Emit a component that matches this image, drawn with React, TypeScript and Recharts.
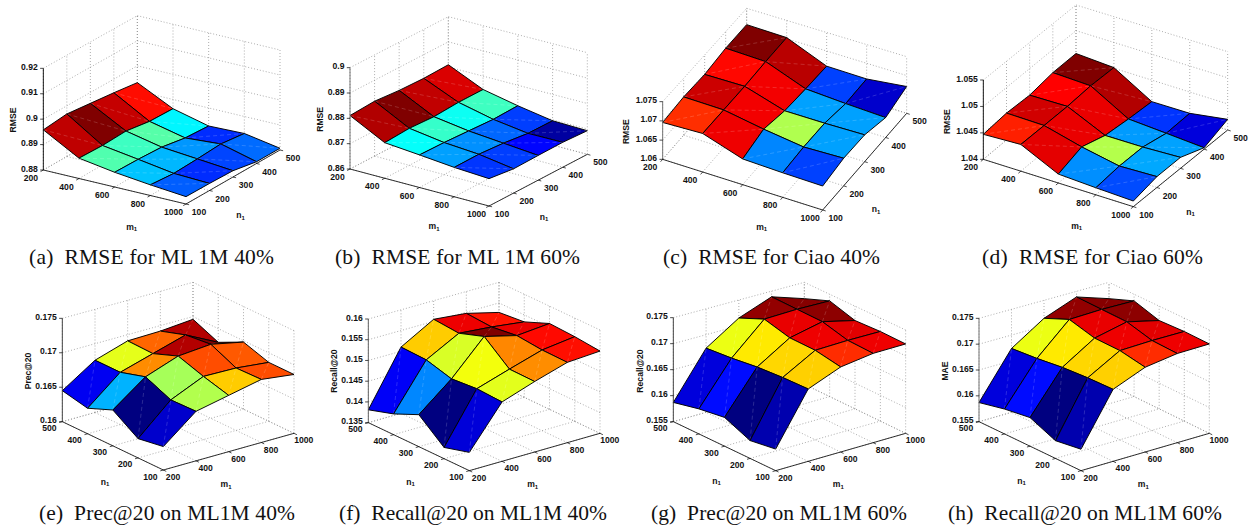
import React from 'react';
import { ScatterChart, Scatter, XAxis, YAxis, Polygon } from 'recharts';

// ---------- data ----------
const mValues = [200, 400, 600, 800, 1000];
const nValues = [100, 200, 300, 400, 500];

// every grid: rows are n = 100..500, columns are m = 200..1000
const rmseMl40 = [
  [0.8958, 0.888, 0.8858, 0.8842, 0.8829],
  [0.8968, 0.8877, 0.8856, 0.8834, 0.8828],
  [0.8957, 0.8881, 0.8851, 0.8838, 0.8825],
  [0.8946, 0.8866, 0.8834, 0.8844, 0.8807],
  [0.8933, 0.8863, 0.8828, 0.8832, 0.8807],
];
const rmseMl60 = [
  [0.8811, 0.874, 0.8728, 0.8715, 0.8707],
  [0.8817, 0.8746, 0.8726, 0.8716, 0.8695],
  [0.8809, 0.8741, 0.8721, 0.8709, 0.8697],
  [0.8806, 0.8747, 0.8716, 0.8697, 0.8698],
  [0.8809, 0.8747, 0.8719, 0.8696, 0.8693],
];
const rmseCiao40 = [
  [1.0696, 1.06992, 1.06656, 1.0662, 1.066],
  [1.0701, 1.0699, 1.0681, 1.0667, 1.067],
  [1.0698, 1.0699, 1.0667, 1.0667, 1.0669],
  [1.0705, 1.0702, 1.0662, 1.0656, 1.0652],
  [1.0705, 1.0703, 1.0659, 1.0658, 1.0671],
];
const rmseCiao60 = [
  [1.04473, 1.04503, 1.04167, 1.04132, 1.04105],
  [1.04513, 1.045, 1.04318, 1.0418, 1.04204],
  [1.04489, 1.045, 1.04173, 1.04177, 1.04207],
  [1.04555, 1.04529, 1.0412, 1.04075, 1.04027],
  [1.04555, 1.04512, 1.04084, 1.0409, 1.04204],
];
const precMl40 = [
  [0.1634, 0.1672, 0.1682, 0.1692, 0.1686],
  [0.1628, 0.1671, 0.1692, 0.1691, 0.1686],
  [0.1652, 0.1687, 0.1704, 0.1708, 0.1698],
  [0.1637, 0.1676, 0.169, 0.1704, 0.168],
  [0.1645, 0.1676, 0.1691, 0.1692, 0.1696],
];
const recallMl40 = [
  [0.1394, 0.1493, 0.152, 0.1544, 0.1549],
  [0.1377, 0.1496, 0.1521, 0.1545, 0.1555],
  [0.1427, 0.1491, 0.1571, 0.1551, 0.1558],
  [0.14, 0.1508, 0.155, 0.1543, 0.1533],
  [0.1381, 0.151, 0.1555, 0.1547, 0.1527],
];
const precMl60 = [
  [0.1591, 0.1688, 0.1713, 0.1722, 0.1723],
  [0.1584, 0.1687, 0.1722, 0.1724, 0.1724],
  [0.1605, 0.1684, 0.1723, 0.1737, 0.1722],
  [0.1598, 0.1678, 0.1736, 0.1738, 0.1737],
  [0.1587, 0.1674, 0.1715, 0.1739, 0.1718],
];
const recallMl60 = [
  [0.1591, 0.1688, 0.1713, 0.1722, 0.1723],
  [0.1584, 0.1687, 0.1722, 0.1724, 0.1724],
  [0.1605, 0.1684, 0.1723, 0.1737, 0.1722],
  [0.1598, 0.1678, 0.1736, 0.1738, 0.1737],
  [0.1587, 0.1674, 0.1715, 0.1739, 0.1718],
];

const zTicksA = [0.88, 0.89, 0.9, 0.91, 0.92];
const zTicksB = [0.86, 0.87, 0.88, 0.89, 0.9];
const zTicksC = [1.06, 1.065, 1.07, 1.075];
const zTicksD = [1.04, 1.045, 1.05, 1.055];
const zTicksE = [0.16, 0.165, 0.17, 0.175];
const zTicksF = [0.135, 0.14, 0.145, 0.15, 0.155, 0.16];
const zTicksG = [0.155, 0.16, 0.165, 0.17, 0.175];

// ---------- layout (measured in 3x crop units) ----------
type P = [number, number];
interface Panel {
  left: number; top: number; h: number; grid: number[][]; zTicks: number[];
  zLabel: string; caption: string; capX: [number, number]; capY: number;
  L: P; B: P; R: P; K: P; HL: number; HR: number; HK: number;
  flip: boolean; zPos: P; mPos: P; nPos: P; zAxis: string;
}
const panels: Panel[] = [
  { left: 0, top: 0, h: 270, grid: rmseMl40, zTicks: zTicksA, zLabel: 'RMSE', caption: '(a)\u2002RMSE for ML 1M 40%', capX: [29, 274], capY: 264,
    L: [130, 510], B: [558, 612], R: [840, 450], K: [412, 348], HL: 305, HR: 300, HK: 301, flip: false, zPos: [40, 360], mPos: [395, 680], nPos: [722, 645], zAxis: '#000' },
  { left: 310, top: 0, h: 270, grid: rmseMl60, zTicks: zTicksB, zLabel: 'RMSE', caption: '(b)\u2002RMSE for ML 1M 60%', capX: [25, 270], capY: 264,
    L: [120, 507], B: [537, 618], R: [832, 463], K: [415, 352], HL: 304, HR: 305, HK: 302, flip: false, zPos: [30, 358], mPos: [372, 678], nPos: [702, 650], zAxis: '#666' },
  { left: 620, top: 0, h: 270, grid: rmseCiao40, zTicks: zTicksC, zLabel: 'RMSE', caption: '(c)\u2002RMSE for Ciao 40%', capX: [43, 260], capY: 264,
    L: [128, 478], B: [608, 630], R: [860, 340], K: [380, 188], HL: 173, HR: 170, HK: 163, flip: false, zPos: [18, 395], mPos: [425, 680], nPos: [768, 628], zAxis: '#666' },
  { left: 930, top: 0, h: 270, grid: rmseCiao60, zTicks: zTicksD, zLabel: 'RMSE', caption: '(d)\u2002RMSE for Ciao 60%', capX: [52, 273], capY: 264,
    L: [160, 478], B: [610, 620], R: [893, 390], K: [438, 246], HL: 238, HR: 235, HK: 231, flip: false, zPos: [50, 365], mPos: [440, 677], nPos: [782, 635], zAxis: '#000' },
  { left: 0, top: 270, h: 259, grid: precMl40, zTicks: zTicksE, zLabel: 'Prec@20', caption: '(e)\u2002Prec@20 on ML1M 40%', capX: [39, 295], capY: 250,
    L: [187, 455], B: [490, 600], R: [882, 490], K: [579, 345], HL: 310, HR: 308, HK: 308, flip: true, zPos: [85, 303], mPos: [678, 642], nPos: [315, 635], zAxis: '#333' },
  { left: 310, top: 270, h: 259, grid: recallMl40, zTicks: zTicksF, zLabel: 'Recall@20', caption: '(f)\u2002Recall@20 on ML1M 40%', capX: [29, 297], capY: 250,
    L: [175, 458], B: [478, 602], R: [870, 490], K: [567, 346], HL: 311, HR: 310, HK: 309, flip: true, zPos: [73, 303], mPos: [668, 642], nPos: [302, 635], zAxis: '#555' },
  { left: 620, top: 270, h: 259, grid: precMl60, zTicks: zTicksG, zLabel: 'Recall@20', caption: '(g)\u2002Prec@20 on ML1M 60%', capX: [31, 287], capY: 250,
    L: [160, 455], B: [467, 602], R: [857, 490], K: [553, 343], HL: 312, HR: 310, HK: 306, flip: true, zPos: [60, 303], mPos: [655, 642], nPos: [290, 632], zAxis: '#333' },
  { left: 930, top: 270, h: 259, grid: recallMl60, zTicks: zTicksG, zLabel: 'MAE', caption: '(h)\u2002Recall@20 on ML1M 60%', capX: [18, 292], capY: 250,
    L: [147, 455], B: [453, 602], R: [838, 490], K: [537, 343], HL: 310, HR: 310, HK: 306, flip: true, zPos: [45, 303], mPos: [640, 642], nPos: [275, 632], zAxis: '#666' },
];

const W = 326;
const S = 1 / 3;
const SANS = '"Liberation Sans", Arial, sans-serif';
const SERIF = '"Liberation Serif", serif';

const clamp = (v: number) => Math.max(0, Math.min(1, v));
function jet(f: number) {
  const r = clamp(Math.min(4 * f - 1.5, -4 * f + 4.5));
  const g = clamp(Math.min(4 * f - 0.5, -4 * f + 3.5));
  const b = clamp(Math.min(4 * f + 0.5, -4 * f + 2.5));
  return `rgb(${Math.round(r * 255)},${Math.round(g * 255)},${Math.round(b * 255)})`;
}

function makeProjector(p: Panel) {
  // (u, v) in 0..1 along m and n; w in 0..1 up the z axis
  const [c00, c10, c11, c01, h00, h10, h11, h01] = p.flip
    ? [p.B, p.R, p.K, p.L, p.HL + p.HR - p.HK, p.HR, p.HK, p.HL]
    : [p.L, p.B, p.R, p.K, p.HL, p.HL + p.HR - p.HK, p.HR, p.HK];
  const bil = (a: number, b: number, c: number, d: number, u: number, v: number) =>
    (1 - u) * (1 - v) * a + u * (1 - v) * b + u * v * c + (1 - u) * v * d;
  return (u: number, v: number, w: number): P => [
    bil(c00[0], c10[0], c11[0], c01[0], u, v) * S,
    (bil(c00[1], c10[1], c11[1], c01[1], u, v) - w * bil(h00, h10, h11, h01, u, v)) * S,
  ];
}

type Seg = { x: number; y: number; dx: number; dy: number };
const seg = (a: P, b: P): Seg => ({ x: a[0], y: a[1], dx: b[0] - a[0], dy: b[1] - a[1] });

const segShape = (stroke: string, width: number, dash?: string) => (q: any) => (
  <line x1={q.cx} y1={q.cy} x2={q.cx + q.payload.dx} y2={q.cy + q.payload.dy}
    stroke={stroke} strokeWidth={width} strokeDasharray={dash} />
);

const cellShape = (q: any) => {
  const o = q.payload.off as P[];
  const pts = o.map((d) => ({ x: q.cx + d[0], y: q.cy + d[1] }));
  return (
    <g>
      <Polygon points={pts} fill={q.payload.fill} stroke="#000" strokeWidth={0.95} strokeLinejoin="round" />
      <line x1={pts[0].x} y1={pts[0].y} x2={pts[2].x} y2={pts[2].y}
        stroke="#fff" strokeOpacity={0.28} strokeWidth={0.6} strokeDasharray="4 3" />
    </g>
  );
};

const textShape = (q: any) => {
  const d = q.payload;
  if (d.kind === 'caption') {
    return (
      <text x={q.cx} y={q.cy} textLength={d.len} lengthAdjust="spacing"
        fontFamily={SERIF} fontSize={21.5} fill="#111">{d.text}</text>
    );
  }
  if (d.kind === 'sub') {
    return (
      <text x={q.cx} y={q.cy} textAnchor="middle" dominantBaseline="central"
        fontFamily={SANS} fontSize={8.6} fontWeight="bold" fill="#111">
        {d.text}<tspan fontSize={6} dy={2.5}>1</tspan>
      </text>
    );
  }
  return (
    <text x={q.cx} y={q.cy} textAnchor={d.anchor} dominantBaseline="central"
      transform={d.rot ? `rotate(${d.rot} ${q.cx} ${q.cy})` : undefined}
      fontFamily={SANS} fontSize={8.6} fontWeight="bold" fill="#111">{d.text}</text>
  );
};

function SurfacePanel({ p }: { p: Panel }) {
  const proj = makeProjector(p);
  const zMin = p.zTicks[0];
  const zMax = p.zTicks[p.zTicks.length - 1];
  const wOf = (z: number) => (z - zMin) / (zMax - zMin);
  const all = p.grid.flat();
  const cMin = Math.min(...all);
  const cMax = Math.max(...all);
  const us = mValues.map((_, i) => i / (mValues.length - 1));
  const vs = nValues.map((_, j) => j / (nValues.length - 1));

  // dotted back walls and floor
  const grid: Seg[] = [];
  const uWall = p.flip ? 1 : 0;
  p.zTicks.forEach((z) => {
    const w = wOf(z);
    grid.push(seg(proj(uWall, 0, w), proj(uWall, 1, w)));
    grid.push(seg(proj(0, 1, w), proj(1, 1, w)));
  });
  us.forEach((u) => {
    grid.push(seg(proj(u, 0, 0), proj(u, 1, 0)));
    grid.push(seg(proj(u, 1, 0), proj(u, 1, 1)));
  });
  vs.forEach((v) => {
    grid.push(seg(proj(0, v, 0), proj(1, v, 0)));
    grid.push(seg(proj(uWall, v, 0), proj(uWall, v, 1)));
  });

  // surface cells, far ones first
  const cells: any[] = [];
  for (let j = 0; j < 4; j++) {
    for (let i = 0; i < 4; i++) {
      const v = (a: number, b: number) => proj(us[a], vs[b], wOf(p.grid[b][a]));
      const c = [v(i, j), v(i + 1, j), v(i + 1, j + 1), v(i, j + 1)];
      cells.push({
        x: c[0][0], y: c[0][1],
        off: c.map((q) => [q[0] - c[0][0], q[1] - c[0][1]]),
        fill: jet((p.grid[j][i] - cMin) / (cMax - cMin)),
        depth: proj((us[i] + us[i + 1]) / 2, (vs[j] + vs[j + 1]) / 2, 0)[1],
      });
    }
  }
  cells.sort((a, b) => a.depth - b.depth);

  // axes, ticks and labels
  const axes: Seg[] = [];
  const ticks: Seg[] = [];
  const texts: any[] = [];
  const vFar = p.flip ? 1 : 0; // z axis stands at the left corner
  const uFar = 0;
  axes.push(seg(proj(0, 0, 0), proj(1, 0, 0)));
  const nAxisU = p.flip ? 0 : 1;
  axes.push(seg(proj(nAxisU, 0, 0), proj(nAxisU, 1, 0)));
  const TL = 3.2;
  const zBase = proj(uFar, vFar, 0);
  const zTop = proj(uFar, vFar, 1);
  p.zTicks.forEach((z) => {
    const a = proj(uFar, vFar, wOf(z));
    ticks.push(seg(a, [a[0] - TL, a[1]]));
    texts.push({ x: a[0] - 5.5, y: a[1] - 1.4, text: String(z), anchor: 'end' });
  });
  const unit = (a: P, b: P): P => {
    const l = Math.hypot(b[0] - a[0], b[1] - a[1]);
    return [(b[0] - a[0]) / l, (b[1] - a[1]) / l];
  };
  const outV = unit(proj(0, 1, 0), proj(0, 0, 0));
  const outU = p.flip ? unit(proj(1, 0, 0), proj(0, 0, 0)) : unit(proj(0, 0, 0), proj(1, 0, 0));
  const mOff: P = p.flip ? [9.7, 7] : [-12.5, 8];
  const nOff: P = p.flip ? [-13, 6.5] : [13, 8];
  us.forEach((u, i) => {
    const a = proj(u, 0, 0);
    ticks.push(seg(a, [a[0] + outV[0] * TL, a[1] + outV[1] * TL]));
    texts.push({ x: a[0] + mOff[0], y: a[1] + mOff[1], text: String(mValues[i]), anchor: 'middle' });
  });
  vs.forEach((v, j) => {
    const a = proj(nAxisU, v, 0);
    ticks.push(seg(a, [a[0] + outU[0] * TL, a[1] + outU[1] * TL]));
    texts.push({ x: a[0] + nOff[0], y: a[1] + nOff[1], text: String(nValues[j]), anchor: 'middle' });
  });
  texts.push({ x: p.zPos[0] * S, y: p.zPos[1] * S, text: p.zLabel, anchor: 'middle', rot: -90 });
  texts.push({ x: p.mPos[0] * S, y: p.mPos[1] * S, text: 'm', kind: 'sub' });
  texts.push({ x: p.nPos[0] * S, y: p.nPos[1] * S, text: 'n', kind: 'sub' });
  texts.push({ x: p.capX[0], y: p.capY, text: p.caption, kind: 'caption', len: p.capX[1] - p.capX[0] });

  return (
    <div style={{ position: 'absolute', left: p.left, top: p.top }}>
      <ScatterChart width={W} height={p.h} margin={{ top: 0, right: 0, bottom: 0, left: 0 }}>
        <XAxis type="number" dataKey="x" domain={[0, W]} hide />
        <YAxis type="number" dataKey="y" domain={[0, p.h]} reversed hide />
        <Scatter data={grid} isAnimationActive={false} shape={segShape('#8a8a8a', 0.7, '1 2')} />
        <Scatter data={cells} isAnimationActive={false} shape={cellShape} />
        <Scatter data={[seg(zBase, zTop)]} isAnimationActive={false} shape={segShape(p.zAxis, 0.9)} />
        <Scatter data={axes} isAnimationActive={false} shape={segShape('#000', 0.8)} />
        <Scatter data={ticks} isAnimationActive={false} shape={segShape('#000', 0.7)} />
        <Scatter data={texts} isAnimationActive={false} shape={textShape} />
      </ScatterChart>
    </div>
  );
}

export default function App() {
  return (
    <div style={{ position: 'absolute', left: 0, top: 0, width: 1256, height: 529, background: '#fff', overflow: 'hidden' }}>
      {panels.map((p) => <SurfacePanel key={p.caption} p={p} />)}
    </div>
  );
}
